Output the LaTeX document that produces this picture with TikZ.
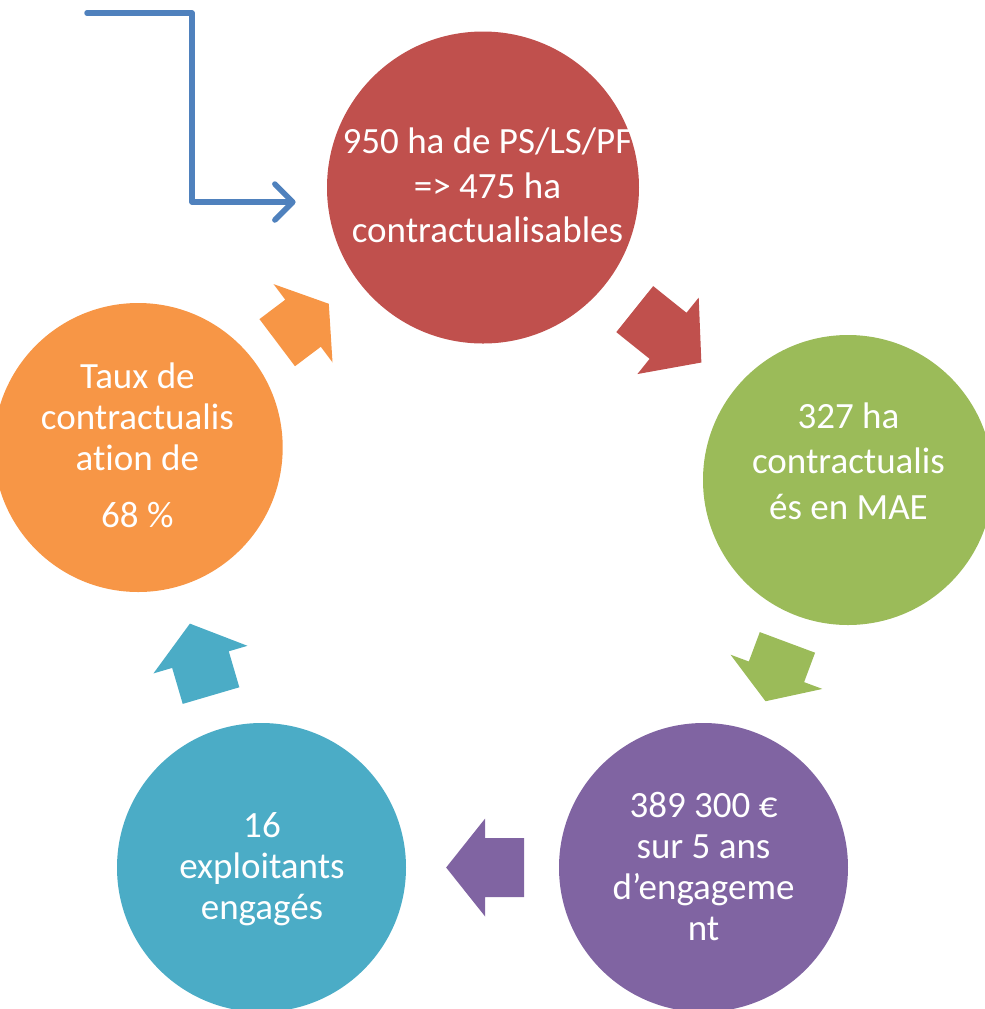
\documentclass[tikz,border=0pt]{standalone}
\usepackage{fontspec}
\setmainfont[Ligatures=NoCommon]{Carlito}
\usetikzlibrary{calc,arrows.meta}
\definecolor{cRed}{HTML}{C0504D}
\definecolor{cGreen}{HTML}{9BBB59}
\definecolor{cPurple}{HTML}{8064A2}
\definecolor{cTeal}{HTML}{4BACC6}
\definecolor{cOrange}{HTML}{F79646}
\definecolor{cBlue}{HTML}{4F81BD}
\tikzset{
  bubble/.style={circle, inner sep=0pt, minimum size=#1*0.5pt},
  txt/.style={text=white, align=flush center, text width=170pt, anchor=base, inner sep=0pt,
    font=\fontsize{18.5}{#1}\selectfont},
  flow/.style={draw=cBlue, line width=2.75pt, -{Straight Barb[length=9pt, width=18pt, round]}}
}
\begin{document}
\begin{tikzpicture}[x=0.5pt, y=-0.5pt, line join=round, line cap=round]
	\useasboundingbox (0,0) rectangle (985,1009);
	\clip (0,0) rectangle (985,1009);
	% circles
	\node[bubble=312, fill=cRed] (red) at (483,187.5) {};
	\node[bubble=290, fill=cGreen] (green) at (848,480) {};
	\node[bubble=289, fill=cPurple] (purple) at (703.5,867.5) {};
	\node[bubble=289, fill=cTeal] (teal) at (261.5,867.5) {};
	\node[bubble=289, fill=cOrange] (orange) at (138.2,447.5) {};
	% block arrows between the circles
	\foreach \a/\b/\pos/\len/\col in {red/green/0.507/42.7/cRed, green/purple/0.495/31.4/cGreen,
		purple/teal/0.494/39/cPurple, teal/orange/0.495/37.5/cTeal, orange/red/0.478/32.3/cOrange}{
		\pgfmathanglebetweenpoints{\pgfpointanchor{\a}{center}}{\pgfpointanchor{\b}{center}}
		\let\ang\pgfmathresult
		\fill[\col, shift={($(\a)!\pos!(\b)$)}, rotate=\ang]
			(-\len,-29.5) -- (0,-29.5) -- (0,-49) -- (\len,0) -- (0,49) -- (0,29.5) -- (-\len,29.5) -- cycle;
	}
	% entry arrow
	\coordinate (src) at (87,13);
	\coordinate (bend) at (192,13);
	\draw[flow] (src) -- (bend) |- ($(red.west)+(-31,14.5)$);
	% texts
	\node[txt=22.25pt] (red-t) at ($(red)+(4.5,-34)$) {950 ha de PS/LS/PF\\=> 475 ha\\contractualisables};
	\node[txt=22.75pt] (green-t) at ($(green)+(0.5,-52)$) {327 ha\\contractualis\\és en MAE};
	\node[txt=20.5pt] (purple-t) at ($(purple)+(0,-50.5)$) {389 300 €\\sur 5 ans\\d’engageme\\nt};
	\node[txt=20.5pt] (teal-t) at ($(teal)+(0.5,-30.5)$) {16\\exploitants\\engagés};
	\node[txt=20.5pt] (orange-t) at ($(orange)+(-0.8,-59.5)$) {Taux de\\contractualis\\ation de\\[8pt]68 \%};
\end{tikzpicture}
\end{document}
